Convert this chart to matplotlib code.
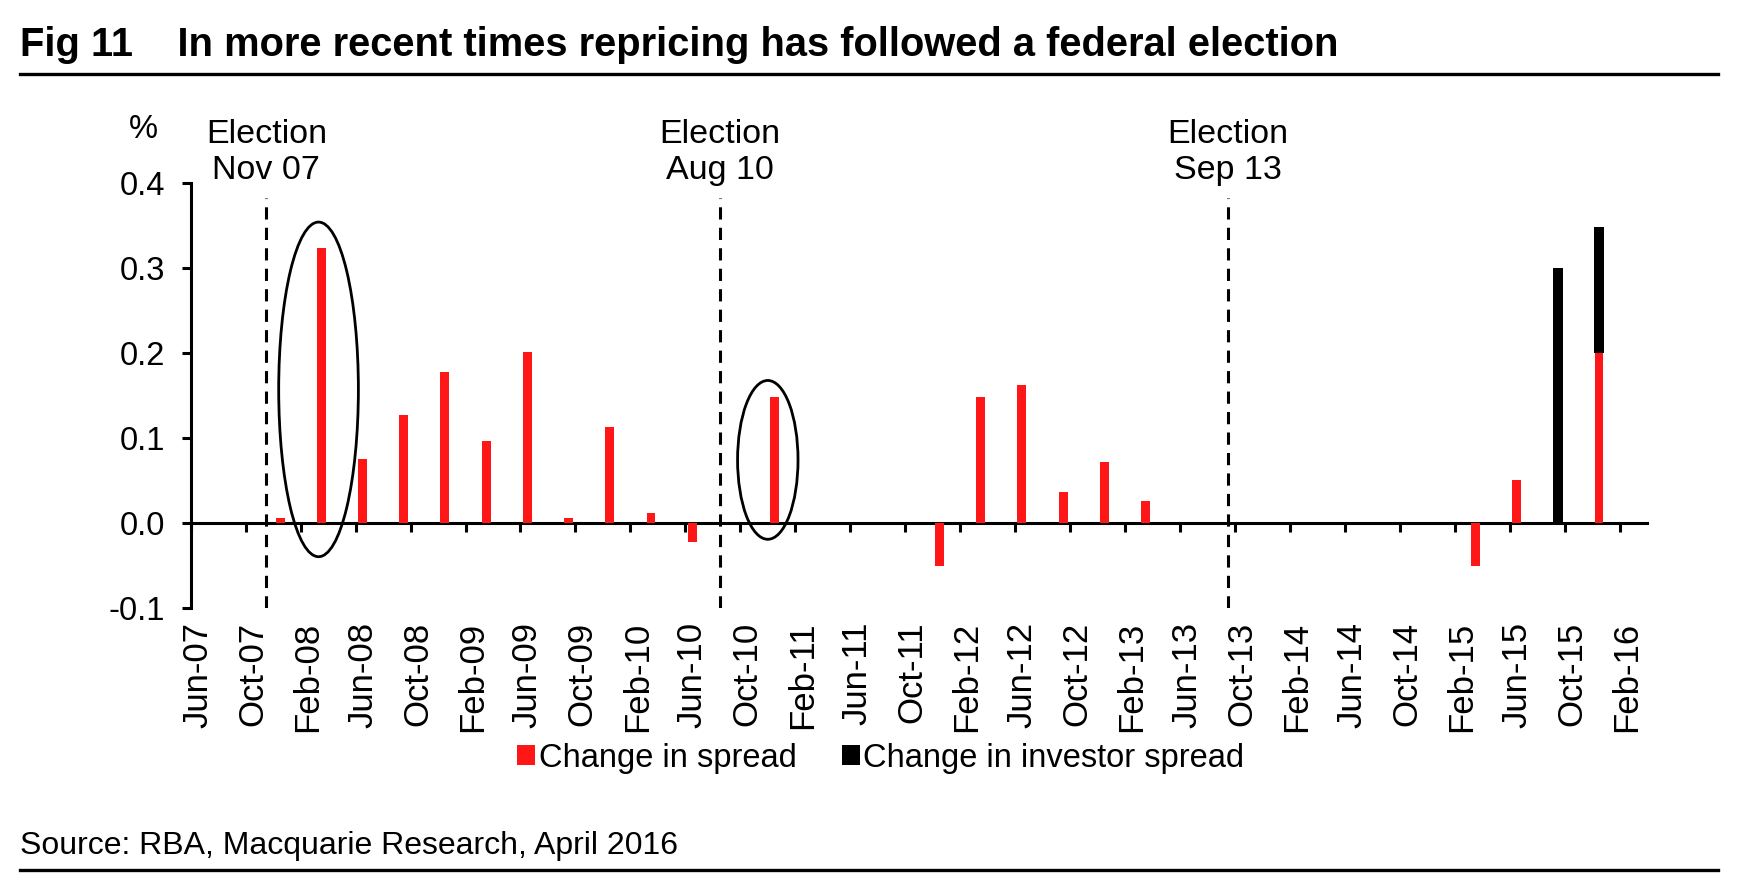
import matplotlib.pyplot as plt
import pandas as pd
from matplotlib.patches import Ellipse, Patch
from matplotlib.lines import Line2D
from matplotlib.ticker import FormatStrFormatter

plt.rcParams['font.family'] = ['Liberation Sans', 'DejaVu Sans']

# quarterly data, Jun-07 .. Mar-16
quarters = pd.date_range('2007-06-01', '2016-03-01', freq='3MS')
change_in_spread = [0.0, 0.0, 0.005, 0.323, 0.075, 0.127, 0.177, 0.096, 0.201,
                    0.005, 0.113, 0.012, -0.023, 0.0, 0.148, 0.0, 0.0, 0.0,
                    -0.051, 0.148, 0.162, 0.036, 0.071, 0.026, 0.0, 0.0, 0.0,
                    0.0, 0.0, 0.0, 0.0, -0.051, 0.050, 0.0, 0.200, 0.0]
change_in_investor_spread = [0.0] * 33 + [0.300, 0.148, 0.0]

month_labels = ['Jun-07', 'Oct-07', 'Feb-08', 'Jun-08', 'Oct-08', 'Feb-09', 'Jun-09',
                'Oct-09', 'Feb-10', 'Jun-10', 'Oct-10', 'Feb-11', 'Jun-11', 'Oct-11',
                'Feb-12', 'Jun-12', 'Oct-12', 'Feb-13', 'Jun-13', 'Oct-13', 'Feb-14',
                'Jun-14', 'Oct-14', 'Feb-15', 'Jun-15', 'Oct-15', 'Feb-16']

election_dates = pd.to_datetime(['2007-11-01', '2010-08-01', '2013-09-01'])
election_names = ['Nov 07', 'Aug 10', 'Sep 13']

RED = '#FF1616'


def month_index(d):
    return (d.year - 2007) * 12 + d.month - 6


x = [month_index(d) for d in quarters]

fig = plt.figure(figsize=(17.55, 8.91), dpi=100)
ax = fig.add_axes([0.1087, 0.318, 0.8298, 0.4766])

ax.bar(x, change_in_spread, width=0.65, color=RED, zorder=2)
ax.bar(x, change_in_investor_spread, width=0.7, bottom=change_in_spread,
       color='black', zorder=2)

ax.set_xlim(-0.5, 105.5)
ax.set_ylim(-0.1, 0.4)
ax.set_yticks([-0.1, 0.0, 0.1, 0.2, 0.3, 0.4])
ax.yaxis.set_major_formatter(FormatStrFormatter('%.1f'))
ax.set_xticks(range(0, 105, 4))
ax.set_xticklabels(month_labels, rotation=90)

for s in ['top', 'right', 'bottom']:
    ax.spines[s].set_visible(False)
ax.spines['left'].set_linewidth(2.2)
ax.tick_params(axis='y', direction='out', length=6.5, width=2.2, pad=12,
               labelsize=23.5)
ax.tick_params(axis='x', length=0, pad=10, labelsize=25)

# category axis drawn at zero
zero_ax = ax.secondary_xaxis(0.2)
zero_ax.set_xticks([i - 0.5 for i in range(0, 105, 4)])
zero_ax.spines['bottom'].set_linewidth(2.2)
zero_ax.tick_params(axis='x', direction='out', length=6.5, width=2.2,
                    labelbottom=False)

# election markers
for d, name in zip(election_dates, election_names):
    xi = month_index(d)
    ax.vlines(xi, -0.1, 0.382, colors='black', linewidth=2.2,
              linestyles=(0, (4, 2.7)), zorder=3)
    ax.text(xi, 0.457, 'Election', ha='center', va='center', fontsize=24.5)
    ax.text(xi, 0.415, name, ha='center', va='center', fontsize=24.5)

ax.add_patch(Ellipse((8.8, 0.157), 5.8, 0.394, fill=False, edgecolor='black',
                     linewidth=2, zorder=4))
ax.add_patch(Ellipse((41.5, 0.074), 4.4, 0.187, fill=False, edgecolor='black',
                     linewidth=2, zorder=4))

fig.text(143 / 1755, 1 - 130 / 891, '%', ha='center', va='center', fontsize=23.5)

handles = [Patch(facecolor=RED, label='Change in spread'),
           Patch(facecolor='black', label='Change in investor spread')]
fig.legend(handles=handles, loc='center', bbox_to_anchor=(881 / 1755, 1 - 758 / 891),
           ncol=2, frameon=False, fontsize=23.5, handlelength=0.55, handleheight=0.6,
           handletextpad=0.1, columnspacing=1.4, borderpad=0)

fig.text(20 / 1755, 1 - 56 / 891,
         'Fig 11    In more recent times repricing has followed a federal election',
         fontsize=28.7, fontweight='bold', va='baseline')
fig.add_artist(Line2D([20 / 1755, 1718 / 1755], [1 - 74 / 891, 1 - 74 / 891],
                      color='black', linewidth=2.4))

fig.text(20 / 1755, 1 - 854 / 891, 'Source: RBA, Macquarie Research, April 2016',
         fontsize=23, va='baseline')
fig.add_artist(Line2D([20 / 1755, 1718 / 1755], [1 - 870 / 891, 1 - 870 / 891],
                      color='black', linewidth=2.4))

fig.savefig('out.png', dpi=100)
